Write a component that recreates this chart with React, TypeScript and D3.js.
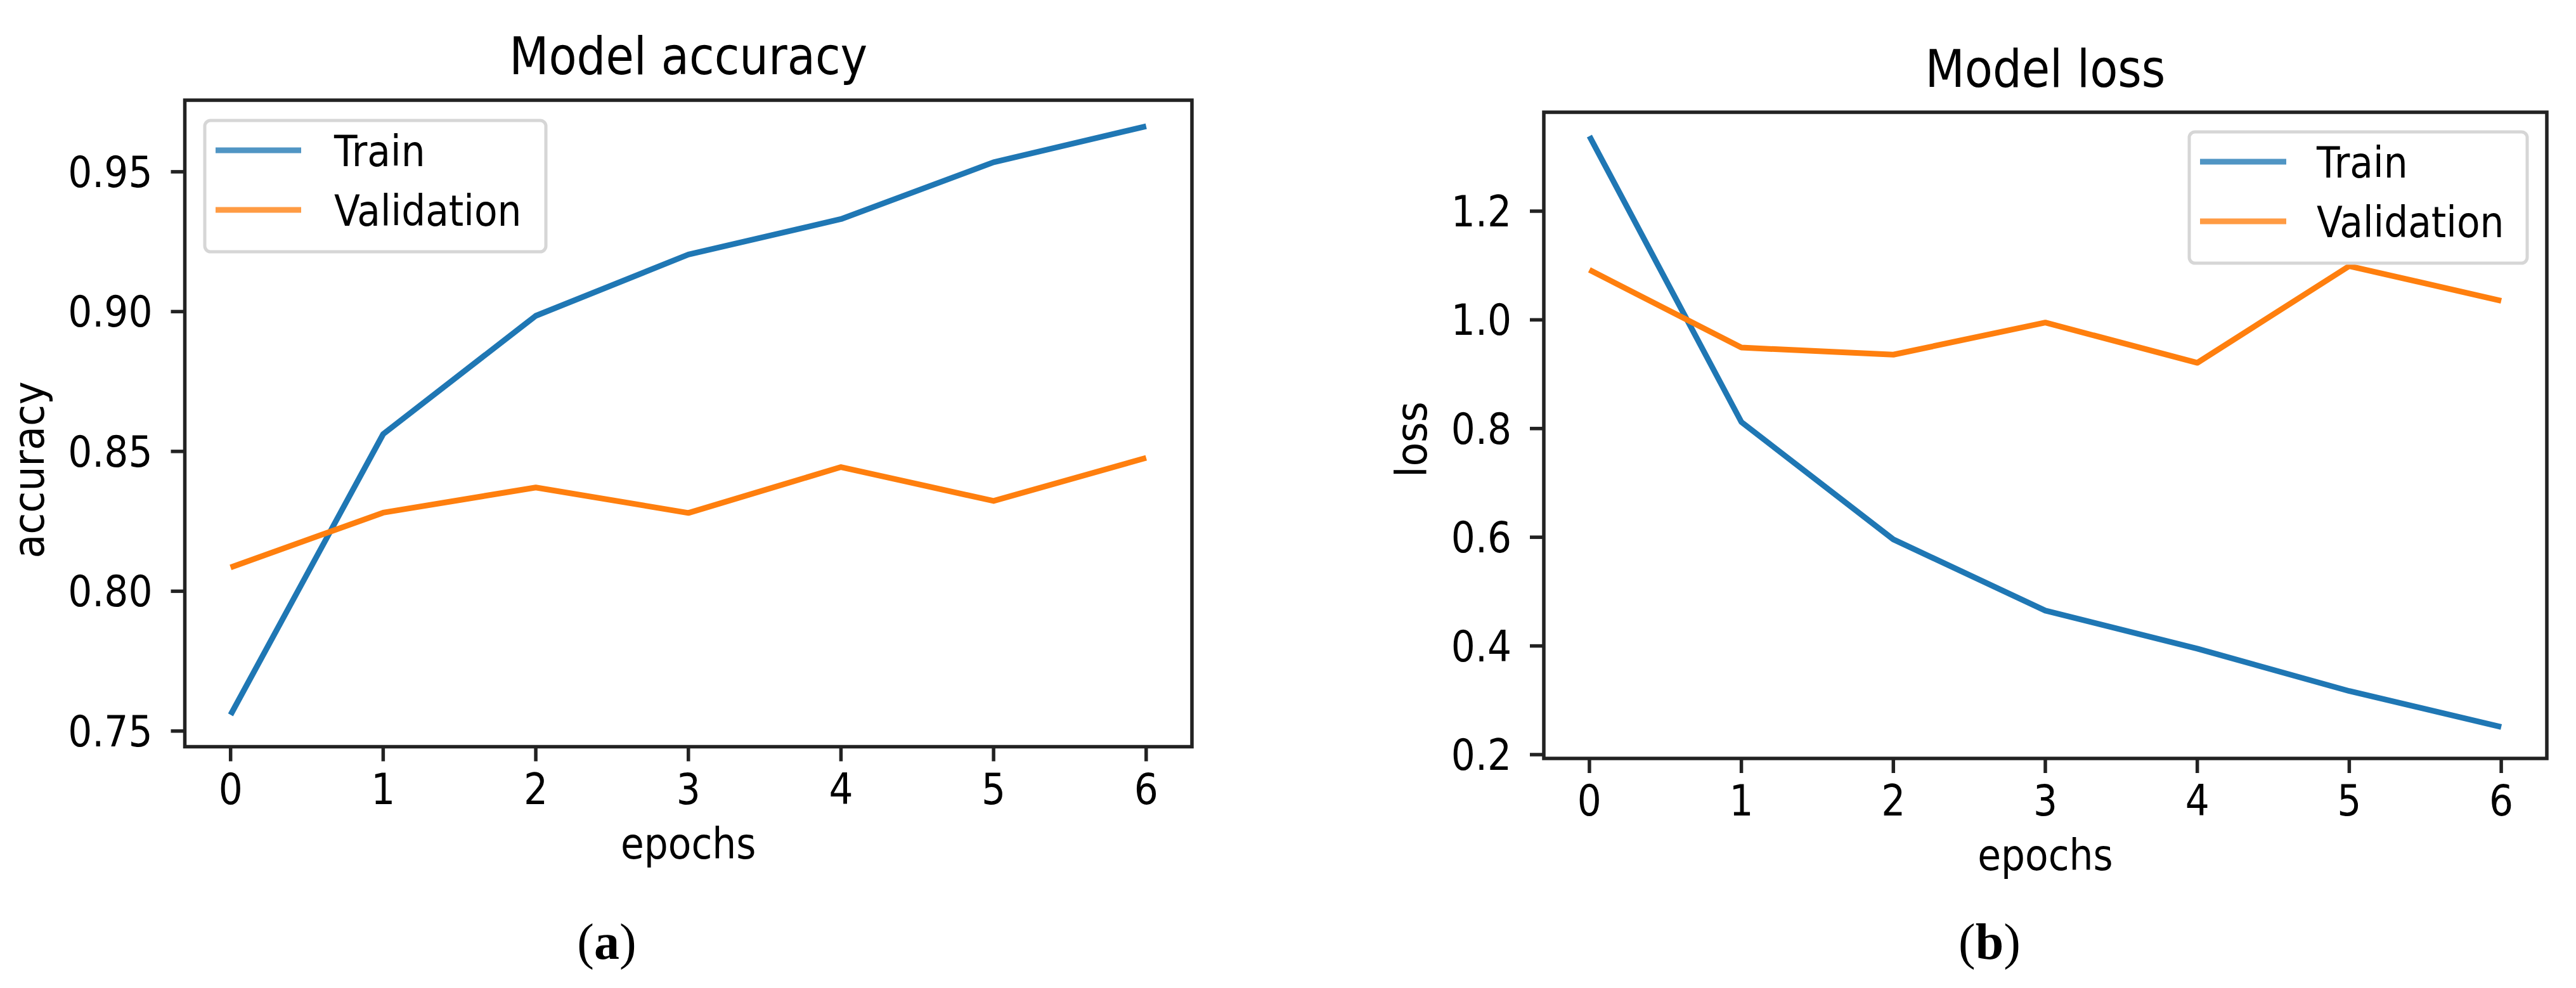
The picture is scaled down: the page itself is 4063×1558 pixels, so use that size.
import React from "react";
import * as d3 from "d3";

const epochs = [0, 1, 2, 3, 4, 5, 6];
const accTrain = [0.7558, 0.8562, 0.8985, 0.9204, 0.9331, 0.9534, 0.9663];
const accVal = [0.8085, 0.8281, 0.8371, 0.828, 0.8444, 0.8323, 0.8477];
const lossTrain = [1.338, 0.812, 0.596, 0.465, 0.395, 0.317, 0.251];
const lossVal = [1.092, 0.949, 0.936, 0.995, 0.921, 1.099, 1.035];
const accTicks = [0.75, 0.8, 0.85, 0.9, 0.95];
const lossTicks = [0.2, 0.4, 0.6, 0.8, 1.0, 1.2];
const seriesNames = ["Train", "Validation"];

const BLUE = "#1f77b4";
const ORANGE = "#ff7f0e";
const FONT = "DejaVu Sans";
const SX = 0.88;

type TxtProps = {
  x: number;
  y: number;
  size: number;
  anchor?: string;
  rotate?: number;
  sx?: number;
  family?: string;
  children: React.ReactNode;
};

function Txt({ x, y, size, anchor = "start", rotate, sx = SX, family = FONT, children }: TxtProps) {
  const tr = `translate(${x},${y})${rotate ? ` rotate(${rotate})` : ""} scale(${sx},1)`;
  return (
    <text transform={tr} fontFamily={family} fontSize={size} textAnchor={anchor} fill="#000">
      {children}
    </text>
  );
}

type PanelProps = {
  left: number;
  right: number;
  top: number;
  bottom: number;
  yDomain: [number, number];
  ticks: number[];
  fmt: string;
  train: number[];
  val: number[];
  title: string;
  titleY: number;
  ylabel: string;
  ylabelX: number;
  ylabelY: number;
  legend: { x0: number; x1: number; y0: number; y1: number; lx0: number; lx1: number; tx: number; r1: number; r2: number };
  caption: string;
  captionX: number;
};

function Panel(p: PanelProps) {
  const x = d3.scaleLinear().domain([-0.3, 6.3]).range([p.left, p.right]);
  const y = d3.scaleLinear().domain(p.yDomain).range([p.bottom, p.top]);
  const line = d3
    .line<number>()
    .x((_, i) => x(epochs[i]))
    .y((d) => y(d));
  const f = d3.format(p.fmt);
  const cx = (p.left + p.right) / 2;
  const L = p.legend;
  return (
    <g>
      <path d={line(p.train) || ""} fill="none" stroke={BLUE} strokeWidth={9} strokeLinejoin="round" />
      <path d={line(p.val) || ""} fill="none" stroke={ORANGE} strokeWidth={9} strokeLinejoin="round" />
      <rect
        x={p.left}
        y={p.top}
        width={p.right - p.left}
        height={p.bottom - p.top}
        fill="none"
        stroke="#222"
        strokeWidth={5.5}
      />
      {p.ticks.map((t) => (
        <g key={"y" + t}>
          <line x1={p.left - 22} x2={p.left} y1={y(t)} y2={y(t)} stroke="#222" strokeWidth={5.5} />
          <Txt x={p.left - 51} y={y(t) + 24} size={68} anchor="end">
            {f(t)}
          </Txt>
        </g>
      ))}
      {epochs.map((e) => (
        <g key={"x" + e}>
          <line x1={x(e)} x2={x(e)} y1={p.bottom} y2={p.bottom + 23} stroke="#222" strokeWidth={5.5} />
          <Txt x={x(e)} y={p.bottom + 90} size={68} anchor="middle">
            {String(e)}
          </Txt>
        </g>
      ))}
      <Txt x={cx} y={p.bottom + 176} size={68} anchor="middle">
        epochs
      </Txt>
      <Txt x={p.ylabelX} y={p.ylabelY} size={68} anchor="middle" rotate={-90} sx={0.91}>
        {p.ylabel}
      </Txt>
      <Txt x={cx} y={p.titleY} size={82} anchor="middle">
        {p.title}
      </Txt>
      <rect
        x={L.x0}
        y={L.y0}
        width={L.x1 - L.x0}
        height={L.y1 - L.y0}
        rx={9}
        fill="#fff"
        fillOpacity={0.8}
        stroke="#d6d6d6"
        strokeWidth={5}
      />
      {[BLUE, ORANGE].map((c, i) => {
        const ry = i === 0 ? L.r1 : L.r2;
        return (
          <g key={c}>
            <line x1={L.lx0} x2={L.lx1} y1={ry} y2={ry} stroke={c} strokeWidth={9} strokeOpacity={0.78} />
            <Txt x={L.tx} y={ry + 25} size={68}>
              {seriesNames[i]}
            </Txt>
          </g>
        );
      })}
      <text x={p.captionX} y={1512} fontFamily="Liberation Serif" fontSize={80} textAnchor="middle" fill="#000">
        (<tspan fontWeight="bold">{p.caption}</tspan>)
      </text>
    </g>
  );
}

export default function App() {
  return (
    <svg
      width={4063}
      height={1558}
      viewBox="0 0 4063 1558"
      style={{ position: "absolute", left: 0, top: 0, background: "#fff", display: "block" }}
    >
      <rect x={0} y={0} width={4063} height={1558} fill="#fff" />
      <Panel
        left={291.5}
        right={1880}
        top={158}
        bottom={1177.5}
        yDomain={[0.7444, 0.9756]}
        ticks={accTicks}
        fmt=".2f"
        train={accTrain}
        val={accVal}
        title="Model accuracy"
        titleY={117}
        ylabel="accuracy"
        ylabelX={69}
        ylabelY={741}
        legend={{ x0: 323, x1: 861, y0: 190, y1: 397, lx0: 340, lx1: 475, tx: 527, r1: 237, r2: 331 }}
        caption="a"
        captionX={957}
      />
      <Panel
        left={2435}
        right={4017}
        top={177}
        bottom={1196}
        yDomain={[0.193, 1.382]}
        ticks={lossTicks}
        fmt=".1f"
        train={lossTrain}
        val={lossVal}
        title="Model loss"
        titleY={137}
        ylabel="loss"
        ylabelX={2250}
        ylabelY={693}
        legend={{ x0: 3453, x1: 3986, y0: 208, y1: 415, lx0: 3470, lx1: 3606, tx: 3654, r1: 255, r2: 349 }}
        caption="b"
        captionX={3138}
      />
    </svg>
  );
}
